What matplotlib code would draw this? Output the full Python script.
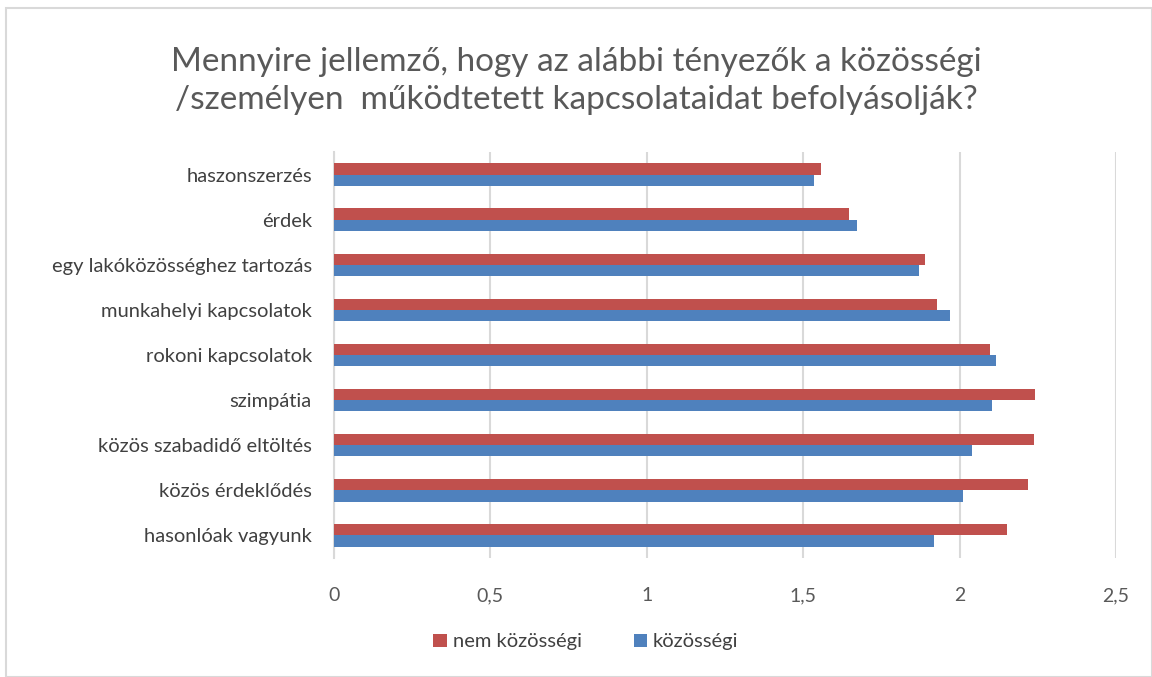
import matplotlib
matplotlib.use("Agg")
import matplotlib.pyplot as plt
from matplotlib.patches import Rectangle
import numpy as np

categories = ["haszonszerzés", "érdek", "egy lakóközösséghez tartozás",
              "munkahelyi kapcsolatok", "rokoni kapcsolatok", "szimpátia",
              "közös szabadidő eltöltés", "közös érdeklődés", "hasonlóak vagyunk"]
nem_kozossegi = [1.557, 1.647, 1.889, 1.929, 2.098, 2.242, 2.238, 2.220, 2.151]
kozossegi = [1.536, 1.671, 1.869, 1.968, 2.115, 2.105, 2.040, 2.012, 1.917]
xticks = [0, 0.5, 1, 1.5, 2, 2.5]
xticklabels = ["0", "0,5", "1", "1,5", "2", "2,5"]
title = "Mennyire jellemző, hogy az alábbi tényezők a közösségi\n/személyen  működtetett kapcsolataidat befolyásolják?"

plt.rcParams['font.family'] = ['Lato', 'DejaVu Sans']

W, H = 1152, 677
fig = plt.figure(figsize=(W/100, H/100), dpi=100)
fig.patches.append(Rectangle((6/W, 0), 1 - 6/W, 1 - 8/H, transform=fig.transFigure,
                             fill=False, edgecolor='#D9D9D9', lw=1.5))

left, right = 334, 1116
top, bottom = 152, 558
ax = fig.add_axes([left/W, 1 - bottom/H, (right-left)/W, (bottom-top)/H])

red = '#C0504D'
blue = '#4F81BD'
n = len(categories)
y = np.arange(n)
h = 0.25
ax.barh(y - h/2, nem_kozossegi, height=h, color=red, label='nem közösségi', zorder=3)
ax.barh(y + h/2, kozossegi, height=h, color=blue, label='közösségi', zorder=3)

ax.set_ylim(n - 0.5, -0.5)
ax.set_xlim(0, 2.5)
ax.set_yticks(y)
ax.set_yticklabels(categories, fontsize=14.5, color='#404040')
ax.set_xticks(xticks)
ax.set_xticklabels(xticklabels, fontsize=14, color='#595959')
ax.tick_params(axis='both', length=0)
ax.tick_params(axis='y', pad=16)
ax.tick_params(axis='x', pad=21)
ax.grid(axis='x', color='#D9D9D9', lw=1.5, zorder=0)
for s in ['top', 'right', 'bottom']:
    ax.spines[s].set_visible(False)
ax.spines['left'].set_color('#D9D9D9')
ax.spines['left'].set_linewidth(1.5)

fig.text(0.5, 1 - 81/H, title, ha='center', va='center', fontsize=24,
         color='#595959', linespacing=1.3)

leg = fig.legend(loc='center', bbox_to_anchor=(586/W, 1 - 642/H), ncol=2, frameon=False,
                 fontsize=14.5, handlelength=0.65, handleheight=0.65, handletextpad=0.3,
                 columnspacing=2.6, labelcolor='#404040')

fig.savefig('out.png', dpi=100)
